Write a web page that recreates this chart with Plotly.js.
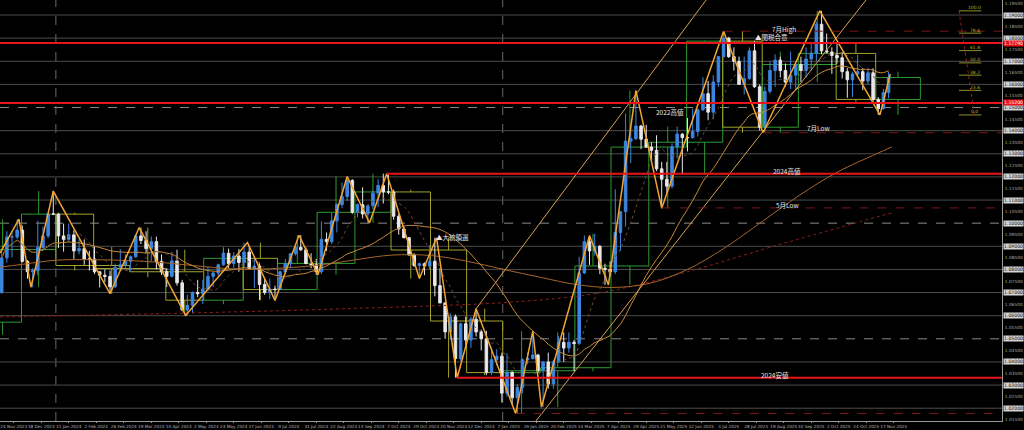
<!DOCTYPE html>
<html><head><meta charset="utf-8">
<script src="https://cdn.plot.ly/plotly-3.0.1.min.js"></script>
<style>html,body{margin:0;padding:0;background:#000;}#chart{width:1024px;height:430px;}</style>
</head><body><div id="chart"></div>
<script>
// EUR/USD daily chart, each candle = 3 trading days (bar index 0 = 14 Nov 2023)
const open  = [1.0700,1.0850,1.0940,1.0940,1.0970,1.0835,1.0790,1.0795,1.0895,1.0945,1.1040,1.1039,1.0945,1.0930,1.0950,1.0880,1.0890,1.0845,1.0845,1.0790,1.0775,1.0770,1.0725,1.0810,1.0820,1.0835,1.0855,1.0945,1.0925,1.0890,1.0920,1.0835,1.0790,1.0770,1.0837,1.0742,1.0625,1.0645,1.0700,1.0695,1.0715,1.0770,1.0785,1.0820,1.0870,1.0825,1.0858,1.0830,1.0875,1.0803,1.0815,1.0735,1.0700,1.0715,1.0713,1.0790,1.0825,1.0868,1.0895,1.0885,1.0825,1.0820,1.0790,1.0930,1.0920,1.1010,1.1080,1.1115,1.1185,1.1047,1.1080,1.1040,1.1075,1.1130,1.1163,1.1135,1.1135,1.1030,1.0975,1.0937,1.0862,1.0817,1.0825,1.0815,1.0835,1.0730,1.0655,1.0530,1.0595,1.0415,1.0565,1.0495,1.0585,1.0530,1.0500,1.0355,1.0410,1.0425,1.0265,1.0355,1.0245,1.0290,1.0410,1.0415,1.0430,1.0362,1.0400,1.0305,1.0400,1.0485,1.0460,1.0485,1.0480,1.0785,1.0920,1.0880,1.0900,1.0805,1.0800,1.0790,1.0960,1.1050,1.1355,1.1365,1.1420,1.1363,1.1329,1.1315,1.1235,1.1190,1.1160,1.1330,1.1385,1.1370,1.1370,1.1397,1.1490,1.1560,1.1480,1.1610,1.1720,1.1800,1.1720,1.1700,1.1600,1.1625,1.1745,1.1590,1.1415,1.1570,1.1660,1.1705,1.1660,1.1610,1.1640,1.1686,1.1660,1.1710,1.1735,1.1860,1.1745,1.1740,1.1725,1.1715,1.1655,1.1620,1.1645,1.1655,1.1615,1.1650,1.1535,1.1495,1.1565];
const high  = [1.0888,1.0965,1.0960,1.1017,1.0990,1.0840,1.0805,1.1010,1.0985,1.1040,1.1139,1.1045,1.0998,1.0999,1.0970,1.0930,1.0930,1.0880,1.0898,1.0790,1.0800,1.0795,1.0825,1.0888,1.0865,1.0860,1.0950,1.0981,1.0965,1.0943,1.0942,1.0865,1.0805,1.0876,1.0885,1.0755,1.0690,1.0705,1.0755,1.0755,1.0812,1.0790,1.0825,1.0895,1.0890,1.0875,1.0888,1.0916,1.0902,1.0852,1.0830,1.0760,1.0760,1.0730,1.0795,1.0845,1.0870,1.0910,1.0948,1.0895,1.0870,1.0845,1.1008,1.0960,1.1045,1.1085,1.1175,1.1202,1.1190,1.1085,1.1155,1.1080,1.1140,1.1190,1.1214,1.1209,1.1145,1.1040,1.0985,1.0940,1.0870,1.0830,1.0830,1.0905,1.0937,1.0805,1.0660,1.0610,1.0605,1.0570,1.0596,1.0595,1.0630,1.0540,1.0535,1.0460,1.0455,1.0440,1.0437,1.0360,1.0305,1.0415,1.0440,1.0533,1.0435,1.0402,1.0440,1.0410,1.0513,1.0528,1.0528,1.0495,1.0855,1.0947,1.0945,1.0954,1.0905,1.0825,1.0835,1.1147,1.1050,1.1474,1.1420,1.1573,1.1425,1.1425,1.1350,1.1380,1.1265,1.1265,1.1345,1.1418,1.1390,1.1455,1.1495,1.1495,1.1631,1.1615,1.1640,1.1720,1.1830,1.1805,1.1760,1.1720,1.1720,1.1760,1.1788,1.1600,1.1590,1.1700,1.1730,1.1720,1.1690,1.1742,1.1700,1.1720,1.1760,1.1780,1.1870,1.1918,1.1820,1.1760,1.1778,1.1740,1.1670,1.1655,1.1728,1.1670,1.1670,1.1670,1.1545,1.1580,1.1655];
const low   = [1.0695,1.0830,1.0852,1.0930,1.0830,1.0760,1.0723,1.0775,1.0880,1.0935,1.1035,1.0893,1.0877,1.0920,1.0845,1.0865,1.0820,1.0795,1.0780,1.0722,1.0745,1.0695,1.0720,1.0800,1.0800,1.0795,1.0850,1.0910,1.0870,1.0835,1.0800,1.0776,1.0724,1.0765,1.0730,1.0620,1.0601,1.0610,1.0680,1.0650,1.0705,1.0724,1.0765,1.0815,1.0805,1.0805,1.0790,1.0810,1.0800,1.0720,1.0668,1.0690,1.0672,1.0666,1.0710,1.0780,1.0805,1.0860,1.0880,1.0825,1.0805,1.0777,1.0780,1.0880,1.0910,1.0960,1.1065,1.1095,1.1040,1.1026,1.1020,1.1001,1.1060,1.1070,1.1085,1.1125,1.1015,1.0950,1.0935,1.0860,1.0811,1.0761,1.0775,1.0800,1.0684,1.0655,1.0500,1.0495,1.0332,1.0405,1.0460,1.0460,1.0510,1.0450,1.0343,1.0343,1.0385,1.0225,1.0250,1.0215,1.0177,1.0265,1.0390,1.0410,1.0355,1.0205,1.0285,1.0285,1.0395,1.0400,1.0440,1.0360,1.0475,1.0780,1.0820,1.0860,1.0780,1.0733,1.0770,1.0780,1.0880,1.0985,1.1260,1.1360,1.1320,1.1325,1.1265,1.1225,1.1065,1.1130,1.1150,1.1280,1.1210,1.1310,1.1365,1.1375,1.1485,1.1445,1.1450,1.1590,1.1715,1.1715,1.1660,1.1600,1.1556,1.1620,1.1585,1.1400,1.1391,1.1560,1.1590,1.1630,1.1590,1.1580,1.1575,1.1610,1.1630,1.1660,1.1700,1.1730,1.1735,1.1646,1.1690,1.1625,1.1542,1.1545,1.1630,1.1575,1.1600,1.1525,1.1468,1.1490,1.1540];
const close = [1.0850,1.0940,1.0940,1.0970,1.0835,1.0790,1.0795,1.0895,1.0945,1.1040,1.1039,1.0945,1.0930,1.0950,1.0880,1.0890,1.0845,1.0845,1.0790,1.0775,1.0770,1.0725,1.0810,1.0820,1.0835,1.0855,1.0945,1.0925,1.0890,1.0920,1.0835,1.0790,1.0770,1.0837,1.0742,1.0625,1.0645,1.0700,1.0695,1.0715,1.0770,1.0785,1.0820,1.0870,1.0825,1.0858,1.0830,1.0875,1.0803,1.0815,1.0735,1.0700,1.0715,1.0713,1.0790,1.0825,1.0868,1.0895,1.0885,1.0825,1.0820,1.0790,1.0930,1.0920,1.1010,1.1080,1.1115,1.1185,1.1047,1.1080,1.1040,1.1075,1.1130,1.1163,1.1135,1.1135,1.1030,1.0975,1.0937,1.0862,1.0817,1.0825,1.0815,1.0835,1.0730,1.0655,1.0530,1.0595,1.0415,1.0565,1.0495,1.0585,1.0530,1.0500,1.0355,1.0410,1.0425,1.0265,1.0355,1.0245,1.0290,1.0410,1.0415,1.0430,1.0362,1.0400,1.0305,1.0400,1.0485,1.0460,1.0485,1.0480,1.0785,1.0920,1.0880,1.0900,1.0805,1.0800,1.0790,1.0960,1.1050,1.1355,1.1365,1.1420,1.1363,1.1329,1.1315,1.1235,1.1190,1.1160,1.1330,1.1385,1.1370,1.1370,1.1397,1.1490,1.1560,1.1480,1.1610,1.1720,1.1800,1.1720,1.1700,1.1600,1.1625,1.1745,1.1590,1.1415,1.1570,1.1660,1.1705,1.1660,1.1610,1.1640,1.1686,1.1660,1.1710,1.1735,1.1860,1.1745,1.1740,1.1725,1.1715,1.1655,1.1620,1.1645,1.1655,1.1615,1.1650,1.1535,1.1495,1.1565,1.1630];
const barsPerCandle = 3;

// monthly candles (overlay boxes)
const monthStartBar = [-9,13,33,55,76,97,119,142,162,185,207,228,251,272,293,315,335,356,378,400,421,444,465,487,510];
const monthEndBar   = [12,32,54,75,96,118,141,161,184,206,227,250,271,292,314,334,355,377,399,420,443,464,486,509,535];
const mOpen  = [1.0572,1.0886,1.1039,1.0817,1.0804,1.0790,1.0667,1.0848,1.0713,1.0826,1.1047,1.1135,1.0884,1.0577,1.0354,1.0362,1.0375,1.0815,1.1329,1.1350,1.1787,1.1415,1.1686,1.1734,1.1535];
const mHigh  = [1.1017,1.1139,1.1046,1.0897,1.0981,1.0885,1.0895,1.0916,1.0948,1.1202,1.1214,1.1145,1.0937,1.0630,1.0533,1.0528,1.0954,1.1573,1.1418,1.1790,1.1830,1.1742,1.1918,1.1778,1.1655];
const mLow   = [1.0517,1.0723,1.0795,1.0695,1.0766,1.0601,1.0650,1.0666,1.0710,1.0777,1.1001,1.0761,1.0332,1.0343,1.0177,1.0205,1.0360,1.0733,1.1065,1.1210,1.1391,1.1391,1.1610,1.1525,1.1468];
const mClose = [1.0886,1.1039,1.0817,1.0804,1.0790,1.0667,1.0848,1.0713,1.0826,1.1047,1.1135,1.0884,1.0577,1.0354,1.0362,1.0375,1.0815,1.1329,1.1350,1.1787,1.1415,1.1686,1.1734,1.1535,1.1630];

// zigzag swing points
const zzBar   = [0,11,18,31,64,81,108,144,160,174,185,202,215,225,244,254,266,277,300,310,315,343,354,370,385,421,444,477,512,518];
const zzPrice = [1.0871,1.1017,1.0723,1.1139,1.0695,1.0981,1.0601,1.0916,1.0666,1.0948,1.0777,1.1202,1.1001,1.1214,1.0761,1.0937,1.0332,1.0630,1.0177,1.0533,1.0205,1.0947,1.0733,1.1573,1.1065,1.1830,1.1391,1.1918,1.1468,1.1645];

// long moving averages
const ma200Bar = [0,13,33,55,76,97,119,142,162,185,207,228,251,272,293,315,335,356,378,400,421,444,465,487,510,519];
const ma200Val = [1.0810,1.0822,1.0840,1.0842,1.0838,1.0828,1.0812,1.0800,1.0805,1.0818,1.0842,1.0862,1.0860,1.0835,1.0800,1.0765,1.0735,1.0722,1.0740,1.0800,1.0890,1.1010,1.1120,1.1220,1.1300,1.1330];
const maLongBar = [0,100,200,300,350,400,450,519];
const maLongVal = [1.0595,1.0610,1.0630,1.0660,1.0700,1.0790,1.0900,1.1045];

// channel lines
const chUpperBar = [277,420];
const chUpperPrice = [1.0630,1.2056];
const chLowerBar = [305,510];
const chLowerPrice = [1.0080,1.2023];

// horizontal levels
const roundLevels = [1.02,1.03,1.04,1.05,1.06,1.07,1.08,1.09,1.10,1.11,1.12,1.13,1.14,1.15,1.16,1.17,1.18,1.19];
const redLevels = [1.1779,1.1520,1.1214,1.0332];
const redFromBar = [0,0,225,266];
const thinLevels = [1.1830,1.1391,1.1066,1.0177];
const thinFromBar = [421,444,385,300];
const yearBreakBar = [32.5,292.5];

// fibonacci
const fibHigh = 1.1918, fibLow = 1.1468;
const fibRatios = [100,78.6,61.8,50.0,38.2,23.6,0.0];

// labels
const labelText = ["7月High","▲関税合意","2022高値","7月Low","2024高値","5月Low","▲大統領選","2024安値"];
const labelBar  = [456,449,390,476,458,458,263,451];
const labelPrice= [1.1839,1.1805,1.1481,1.1411,1.1226,1.1079,1.0940,1.0344];

// date axis
const dateTickBar = [8,24,40,56,72,88,104,120,136,152,168,184,200,216,232,248,264,280,296,312,328,344,360,376,392,408,424,440,456,472,488,504,520];
const dateTickText = ["24 Nov 2023","18 Dec 2023","11 Jan 2024","2 Feb 2024","26 Feb 2024","19 Mar 2024","10 Apr 2024","2 May 2024","24 May 2024","17 Jun 2024","9 Jul 2024","31 Jul 2024","22 Aug 2024","13 Sep 2024","7 Oct 2024","29 Oct 2024","20 Nov 2024","12 Dec 2024","7 Jan 2025","29 Jan 2025","20 Feb 2025","14 Mar 2025","7 Apr 2025","29 Apr 2025","21 May 2025","12 Jun 2025","4 Jul 2025","28 Jul 2025","19 Aug 2025","10 Sep 2025","2 Oct 2025","24 Oct 2025","17 Nov 2025"];

// ---------- build ----------
const candleX = close.map((_, k) => k * barsPerCandle + 1);
function sma(arr, n) {
  return arr.map((v, i) => { const s = Math.max(0, i - n + 1); let t = 0; for (let j = s; j <= i; j++) t += arr[j]; return t / (i - s + 1); });
}
const XMAX = 583;
const shapes = [];
roundLevels.forEach(p => {
  const r = Math.round(p * 100);
  const dashed = r % 5 === 0;
  shapes.push({type:'line', xref:'x', yref:'y', x0:0, x1:XMAX, y0:p, y1:p, layer:'below',
    line:{color: dashed ? '#8a8a8a' : '#4d4d4d', width:1, dash: dashed ? 'dash' : 'solid'}});
});
yearBreakBar.forEach(b => shapes.push({type:'line', xref:'x', yref:'paper', x0:b, x1:b, y0:0, y1:1, layer:'below', line:{color:'#6a6a6a', width:1, dash:'dash'}}));
monthStartBar.forEach((s, i) => {
  const bull = mClose[i] >= mOpen[i];
  const col = bull ? '#2e9a2e' : '#a3a32c';
  const top = Math.max(mOpen[i], mClose[i]), bot = Math.min(mOpen[i], mClose[i]);
  const mid = (s + monthEndBar[i]) / 2;
  shapes.push({type:'rect', xref:'x', yref:'y', x0:s - 0.5, x1:monthEndBar[i] + 0.5, y0:bot, y1:top, layer:'below', line:{color:col, width:1}, fillcolor:'rgba(0,0,0,0)'});
  shapes.push({type:'line', xref:'x', yref:'y', x0:mid, x1:mid, y0:top, y1:mHigh[i], layer:'below', line:{color:col, width:1}});
  shapes.push({type:'line', xref:'x', yref:'y', x0:mid, x1:mid, y0:bot, y1:mLow[i], layer:'below', line:{color:col, width:1}});
});
thinLevels.forEach((p, i) => shapes.push({type:'line', xref:'x', yref:'y', x0:thinFromBar[i], x1:XMAX, y0:p, y1:p, line:{color:'#7a1616', width:1, dash:'dash'}}));
redLevels.forEach((p, i) => shapes.push({type:'line', xref:'x', yref:'y', x0:redFromBar[i], x1:XMAX, y0:p, y1:p, line:{color:'#e8141a', width:2}}));
fibRatios.forEach(r => {
  const p = fibLow + (fibHigh - fibLow) * r / 100;
  shapes.push({type:'line', xref:'x', yref:'y', x0:558, x1:571, y0:p, y1:p, line:{color:'#8f8f2a', width:1}});
});
shapes.push({type:'line', xref:'x', yref:'y', x0:558, x1:567, y0:fibHigh, y1:fibLow, line:{color:'#9a2020', width:1, dash:'dot'}});

const traces = [];
traces.push({type:'scatter', mode:'lines', x:maLongBar, y:maLongVal, line:{color:'#8b2020', width:1, dash:'dot', shape:'spline'}, hoverinfo:'skip'});
traces.push({type:'scatter', mode:'lines', x:ma200Bar, y:ma200Val, line:{color:'#a8652a', width:1, shape:'spline'}, hoverinfo:'skip'});
traces.push({type:'scatter', mode:'lines', x:candleX, y:sma(close, 25), line:{color:'#c98a38', width:1, shape:'spline'}, hoverinfo:'skip'});
traces.push({type:'scatter', mode:'lines', x:candleX, y:sma(close, 8), line:{color:'#6e4a30', width:1, dash:'dot', shape:'spline'}, hoverinfo:'skip'});
traces.push({type:'scatter', mode:'lines', x:chUpperBar, y:chUpperPrice, line:{color:'#d9a055', width:1}, hoverinfo:'skip'});
traces.push({type:'scatter', mode:'lines', x:chLowerBar, y:chLowerPrice, line:{color:'#d9a055', width:1}, hoverinfo:'skip'});
traces.push({type:'candlestick', x:candleX, open:open, high:high, low:low, close:close, whiskerwidth:0,
  increasing:{line:{color:'#3c86e0', width:1}, fillcolor:'#3c86e0'},
  decreasing:{line:{color:'#e8e8e8', width:1}, fillcolor:'#e8e8e8'}, hoverinfo:'skip'});
traces.push({type:'scatter', mode:'lines', x:zzBar, y:zzPrice, line:{color:'#f2a533', width:1.5}, hoverinfo:'skip'});

const annotations = [];
labelText.forEach((t, i) => annotations.push({xref:'x', yref:'y', x:labelBar[i], y:labelPrice[i], text:t, showarrow:false,
  font:{family:'Noto Sans CJK JP, DejaVu Sans', size:6.5, color:'#e6e6e6'}}));
fibRatios.forEach(r => {
  const p = fibLow + (fibHigh - fibLow) * r / 100;
  annotations.push({xref:'x', yref:'y', x:567, y:p, yshift:3, text:r.toFixed(1), showarrow:false, font:{family:'DejaVu Sans', size:4.5, color:'#b5b53a'}});
});
roundLevels.forEach(p => annotations.push({xref:'paper', yref:'y', x:1, xanchor:'left', xshift:1, y:p, text:p.toFixed(5), showarrow:false,
  bgcolor:'#d4d4d4', borderpad:0, font:{family:'DejaVu Sans', size:4.6, color:'#111'}}));
redLevels.slice(0, 2).forEach(p => annotations.push({xref:'paper', yref:'y', x:1, xanchor:'left', xshift:1, y:p, text:p.toFixed(5), showarrow:false,
  bgcolor:'#e8141a', borderpad:0, font:{family:'DejaVu Sans', size:4.6, color:'#fff'}}));

const halfTicks = roundLevels.map(p => p + 0.005).filter(p => p < 1.196);
halfTicks.unshift(1.015);

const layout = {
  width:1024, height:430, paper_bgcolor:'#000', plot_bgcolor:'#000',
  margin:{l:0, r:22, t:0, b:9}, showlegend:false, hovermode:false,
  xaxis:{type:'linear', range:[0, XMAX], rangeslider:{visible:false}, showgrid:false, zeroline:false,
    showline:true, linecolor:'#9a9a9a', linewidth:1, tickvals:dateTickBar, ticktext:dateTickText, tickangle:0,
    ticks:'outside', ticklen:1, tickcolor:'#9a9a9a', tickfont:{family:'DejaVu Sans', size:4.2, color:'#b8b8b8'}},
  yaxis:{range:[1.01447, 1.19649], side:'right', showgrid:false, zeroline:false, showline:true, linecolor:'#9a9a9a', linewidth:1,
    tickvals:halfTicks, ticktext:halfTicks.map(p => p.toFixed(5)), ticks:'', ticklabelstandoff:1, tickfont:{family:'DejaVu Sans', size:4.3, color:'#a8a8a8'}},
  shapes:shapes, annotations:annotations
};
Plotly.newPlot('chart', traces, layout, {staticPlot:true, displayModeBar:false});
</script></body></html>
